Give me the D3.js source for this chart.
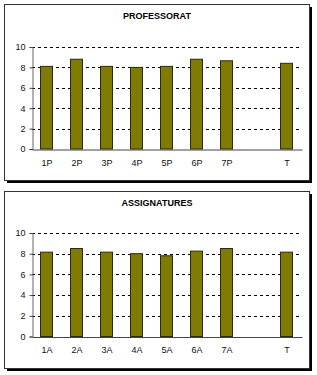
<!DOCTYPE html>
<html>
<head>
<meta charset="utf-8">
<script src="https://cdn.jsdelivr.net/npm/d3@7"></script>
<style>
  body { margin: 0; background: #fff; }
  svg { display: block; font-family: "Liberation Sans", Arial, sans-serif; }
</style>
</head>
<body>
<div id="vis"></div>
<script>
const FRAME_WIDTH = 317;
const FRAME_HEIGHT = 375;

// data
const CATS_P = ["1P", "2P", "3P", "4P", "5P", "6P", "7P", "", "T"];
const VALUES_P = [8.1, 8.8, 8.1, 8.0, 8.1, 8.8, 8.65, null, 8.4];
const CATS_A = ["1A", "2A", "3A", "4A", "5A", "6A", "7A", "", "T"];
const VALUES_A = [8.15, 8.5, 8.15, 8.0, 7.8, 8.25, 8.5, null, 8.15];
const Y_TICKS = [0, 2, 4, 6, 8, 10];

const SVG = d3.select("#vis")
              .append("svg")
                .attr("width", FRAME_WIDTH)
                .attr("height", FRAME_HEIGHT);

// plotTop / plotBottom are relative to the panel's top
function drawPanel(top, boxH, title, cats, values, plotTop, plotBottom) {
  const g = SVG.append("g").attr("transform", "translate(0," + top + ")");

  // shadow + box
  g.append("rect")
    .attr("x", 7).attr("y", 3)
    .attr("width", 305).attr("height", boxH)
    .attr("fill", "#000");
  g.append("rect")
    .attr("x", 4.5).attr("y", 0.5)
    .attr("width", 305).attr("height", boxH)
    .attr("fill", "#fff")
    .attr("stroke", "#333");

  g.append("text")
    .attr("x", 157).attr("y", 15)
    .attr("text-anchor", "middle")
    .attr("font-size", "9px")
    .attr("font-weight", "bold")
    .text(title);

  const X_SCALE = d3.scaleBand()
                    .domain(d3.range(cats.length))
                    .range([32, 302]);
  const Y_SCALE = d3.scaleLinear()
                    .domain([0, 10])
                    .range([plotBottom, plotTop]);

  // dashed gridlines
  g.selectAll(".grid")
    .data(Y_TICKS.filter(d => d > 0))
    .enter()
    .append("line")
      .attr("x1", 32).attr("x2", 302)
      .attr("y1", d => Math.round(Y_SCALE(d)) + 0.5)
      .attr("y2", d => Math.round(Y_SCALE(d)) + 0.5)
      .attr("stroke", "#000")
      .attr("stroke-dasharray", "3,3");

  // bars
  g.selectAll(".bar")
    .data(values.map((v, i) => ({ v: v, i: i })).filter(d => d.v !== null))
    .enter()
    .append("rect")
      .attr("x", d => X_SCALE(d.i) + X_SCALE.bandwidth() / 2 - 6.5)
      .attr("width", 12)
      .attr("y", d => Y_SCALE(d.v))
      .attr("height", d => plotBottom - Y_SCALE(d.v))
      .attr("fill", "#7f7a00")
      .attr("stroke", "#2a2a10");

  // y axis
  const yAxis = g.append("g")
    .attr("transform", "translate(32.5,0)")
    .call(d3.axisLeft(Y_SCALE).tickValues(Y_TICKS).tickSize(3).tickPadding(4));
  yAxis.select(".domain").attr("stroke", "#666");
  yAxis.selectAll("line").attr("stroke", "#444");
  yAxis.selectAll("text").attr("font-size", "9px").attr("font-family", "Liberation Sans, Arial, sans-serif").attr("fill", "#111");

  // x axis
  const xAxis = g.append("g")
    .attr("transform", "translate(0," + (plotBottom + 0.5) + ")")
    .call(d3.axisBottom(X_SCALE).tickFormat(i => cats[i]).tickSize(0).tickPadding(10));
  xAxis.select(".domain").attr("stroke", "#444");
  xAxis.selectAll("text").attr("font-size", "9px").attr("font-family", "Liberation Sans, Arial, sans-serif").attr("fill", "#111");
}

drawPanel(4, 176, "PROFESSORAT", CATS_P, VALUES_P, 43, 145);
drawPanel(191, 177, "ASSIGNATURES", CATS_A, VALUES_A, 42, 145.5);
</script>
</body>
</html>
